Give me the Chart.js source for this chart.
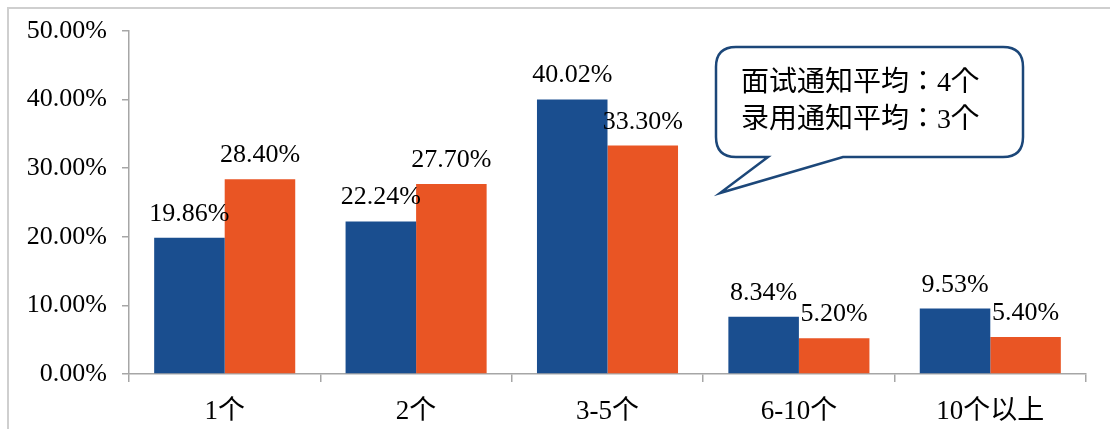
<!DOCTYPE html>
<html>
<head>
<meta charset="utf-8">
<script src="https://cdn.jsdelivr.net/npm/chart.js@4"></script>
<style>
  body { margin: 0; background: #fff; }
  #wrap { position: relative; width: 1110px; height: 429px; }
  #frame { position: absolute; left: 7px; top: 7px; right: 0; bottom: 0;
           border-left: 2px solid #cfcfcf; border-top: 2px solid #cfcfcf; }
  canvas { position: absolute; left: 0; top: 0; }
</style>
</head>
<body>
<div id="wrap">
  <div id="frame"></div>
  <canvas id="myChart" width="1110" height="429"></canvas>
</div>
<script>
// Categorias y valores (%)
const categories = ["1个", "2个", "3-5个", "6-10个", "10个以上"];
const interviewValues = [19.86, 22.24, 40.02, 8.34, 9.53];
const offerValues = [28.4, 27.7, 33.3, 5.2, 5.4];
const yTicks = [0, 10, 20, 30, 40, 50];
const calloutLines = ["面试通知平均：4个", "录用通知平均：3个"];

const FONT = "'Liberation Serif', 'Times New Roman', 'Noto Sans CJK SC', serif";
const CALLOUT_FONT = "'Liberation Serif', 'Noto Sans CJK JP', serif";

// Etiquetas encima de cada barra
const barLabels = {
  id: "barLabels",
  afterDatasetsDraw(chart) {
    const ctx = chart.ctx;
    ctx.save();
    ctx.font = "26px " + FONT;
    ctx.fillStyle = "#000";
    ctx.textAlign = "center";
    ctx.textBaseline = "alphabetic";
    chart.data.datasets.forEach((ds, i) => {
      chart.getDatasetMeta(i).data.forEach((bar, j) => {
        ctx.fillText(ds.data[j].toFixed(2) + "%", bar.x, bar.y - 17);
      });
    });
    ctx.restore();
  },
};

// Cuadro de texto con forma de globo
const callout = {
  id: "callout",
  afterDraw(chart) {
    const ctx = chart.ctx;
    const x0 = 716, y0 = 47, x1 = 1023, y1 = 157, r = 20;
    ctx.save();
    ctx.beginPath();
    ctx.moveTo(x0 + r, y0);
    ctx.lineTo(x1 - r, y0);
    ctx.quadraticCurveTo(x1, y0, x1, y0 + r);
    ctx.lineTo(x1, y1 - r);
    ctx.quadraticCurveTo(x1, y1, x1 - r, y1);
    ctx.lineTo(843, y1);
    ctx.lineTo(720, 193);
    ctx.lineTo(768, y1);
    ctx.lineTo(x0 + r, y1);
    ctx.quadraticCurveTo(x0, y1, x0, y1 - r);
    ctx.lineTo(x0, y0 + r);
    ctx.quadraticCurveTo(x0, y0, x0 + r, y0);
    ctx.closePath();
    ctx.fillStyle = "#fff";
    ctx.fill();
    ctx.lineWidth = 2.5;
    ctx.strokeStyle = "#1c4779";
    ctx.stroke();
    ctx.fillStyle = "#000";
    ctx.font = "28px " + CALLOUT_FONT;
    ctx.textBaseline = "middle";
    ctx.textAlign = "left";
    ctx.fillText(calloutLines[0], 741, 84);
    ctx.fillText(calloutLines[1], 741, 121);
    ctx.restore();
  },
};

const ctx = document.getElementById("myChart").getContext("2d");
new Chart(ctx, {
  type: "bar",
  data: {
    labels: categories,
    datasets: [
      { label: "面试通知", data: interviewValues, backgroundColor: "#1a4e8f",
        categoryPercentage: 0.737, barPercentage: 1.0, borderWidth: 0 },
      { label: "录用通知", data: offerValues, backgroundColor: "#e95524",
        categoryPercentage: 0.737, barPercentage: 1.0, borderWidth: 0 },
    ],
  },
  options: {
    responsive: false,
    animation: false,
    events: [],
    layout: { padding: { left: 0, top: 31, right: 24, bottom: 0 } },
    plugins: { legend: { display: false }, tooltip: { enabled: false } },
    scales: {
      x: {
        afterFit: (s) => { s.height = 55; },
        grid: { offset: true, drawOnChartArea: false, tickLength: 8, color: "#a6a6a6", lineWidth: 1.5 },
        border: { color: "#a6a6a6", width: 1.5 },
        ticks: { color: "#000", font: { family: FONT, size: 27 }, padding: 14 },
      },
      y: {
        min: 0,
        max: 50,
        afterFit: (s) => { s.width = 129; },
        afterBuildTicks: (s) => { s.ticks = yTicks.map((v) => ({ value: v })); },
        grid: { drawOnChartArea: false, tickLength: 7, color: "#a6a6a6", lineWidth: 1.5 },
        border: { color: "#a6a6a6", width: 1.5 },
        ticks: {
          color: "#000",
          font: { family: FONT, size: 26 },
          padding: 15,
          callback: (v) => Number(v).toFixed(2) + "%",
        },
      },
    },
  },
  plugins: [barLabels, callout],
});
</script>
</body>
</html>
